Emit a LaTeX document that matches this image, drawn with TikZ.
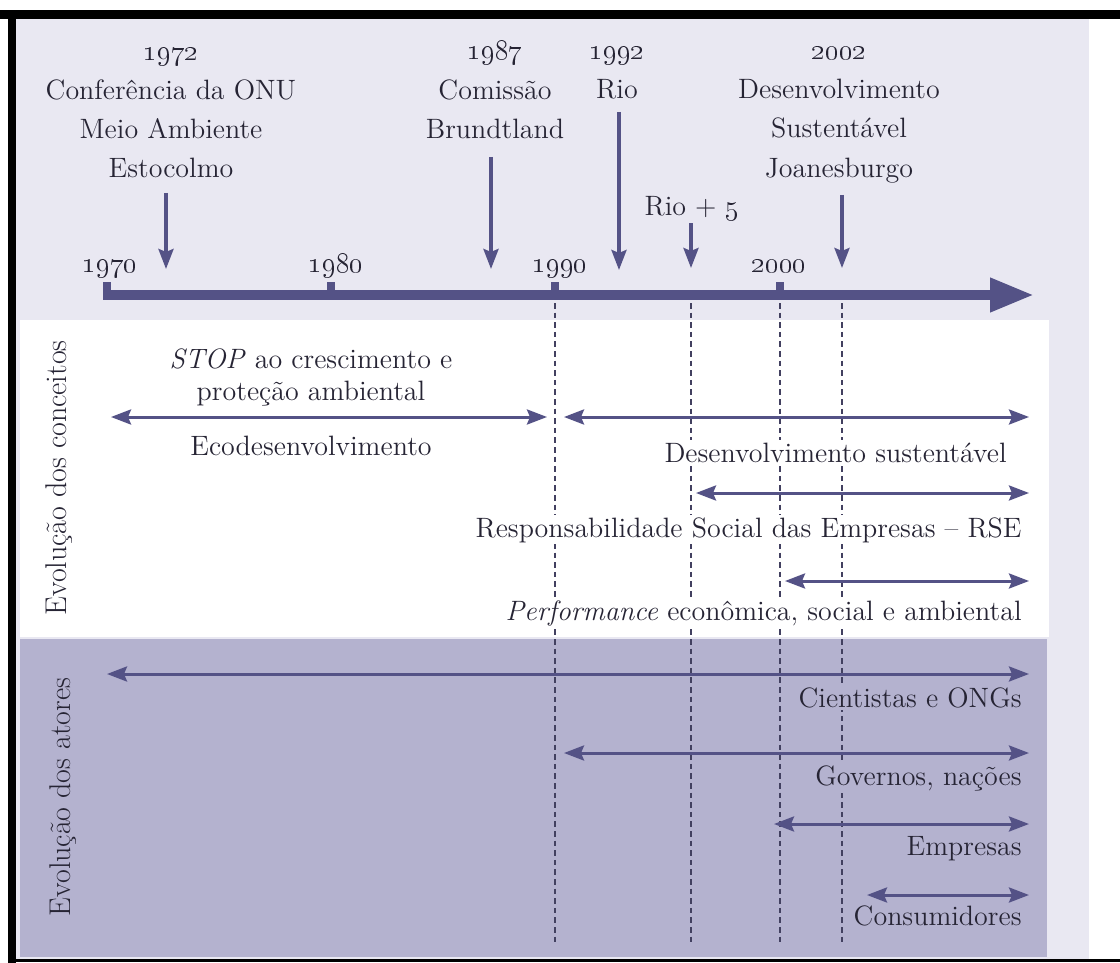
\documentclass[tikz,border=0pt]{standalone}
\usetikzlibrary{arrows.meta}
\definecolor{bglav}{RGB}{233,232,242}
\definecolor{panelc}{RGB}{180,178,207}
\definecolor{ink}{RGB}{84,82,134}
\definecolor{txtc}{RGB}{38,36,52}
\definecolor{dashc}{RGB}{66,64,96}
\newcommand{\osn}[1]{\oldstylenums{#1}}
\begin{document}
\begin{tikzpicture}[x=0.5pt,y=-0.5pt,
  txtf/.style={font=\fontsize{14}{19.6}\selectfont, text=txtc},
  evlabel/.style={txtf, align=center, inner sep=0pt},
  yearlbl/.style={txtf, anchor=base, inner sep=0pt},
  plain/.style={txtf, anchor=base, inner sep=0pt},
  cl/.style={txtf, anchor=base east, fill=white, inner xsep=1.5pt, inner ysep=1pt},
  al/.style={txtf, anchor=base east, fill=panelc, inner xsep=1.5pt, inner ysep=1pt},
  side/.style={font=\fontsize{15}{17}\selectfont, text=txtc, rotate=90, anchor=base, inner sep=0pt},
  evt/.style={draw=ink, line width=1.8pt, -{Stealth[length=10pt,width=7.5pt,inset=1.5pt]}},
  spanarr/.style={draw=ink, line width=1.5pt, {Stealth[length=10pt,width=7.5pt,inset=1.5pt]}-{Stealth[length=10pt,width=7.5pt,inset=1.5pt]}},
  vdash/.style={draw=dashc, line width=0.85pt, dash pattern=on 2.8pt off 2pt},
]
\useasboundingbox (0,0) rectangle (1120,963);
% frame and background
\fill[white] (0,0) rectangle (1120,963);
\fill[bglav] (16,19) rectangle (1089,960);
\fill[black] (0,10) rectangle (1120,19);
\fill[black] (8,10) rectangle (16,963);
\fill[black] (8,959) rectangle (1120,962);
% panels
\fill[white] (20,320) rectangle (1049,637);
\fill[panelc] (20,639) rectangle (1047,957);
% dashed guide lines
\foreach \n/\x in {d90/555, d97/691, d00/780, d02/842}{
  \coordinate (\n-t) at (\x,303);
  \coordinate (\n-b) at (\x,945);
  \draw[vdash] (\n-t) -- (\n-b);
}
% concept spans
\coordinate (eco-l) at (111,417); \coordinate (eco-r) at (547,417);
\coordinate (ds-l) at (564,417); \coordinate (ds-r) at (1029,417);
\coordinate (rse-l) at (696,493); \coordinate (rse-r) at (1029,493);
\coordinate (perf-l) at (785,581); \coordinate (perf-r) at (1029,581);
\draw[spanarr] (eco-l) -- (eco-r);
\draw[spanarr] (ds-l) -- (ds-r);
\draw[spanarr] (rse-l) -- (rse-r);
\draw[spanarr] (perf-l) -- (perf-r);
% actor spans
\coordinate (ci-l) at (107,674); \coordinate (ci-r) at (1029,674);
\coordinate (go-l) at (564,753); \coordinate (go-r) at (1029,753);
\coordinate (em-l) at (774,824); \coordinate (em-r) at (1029,824);
\coordinate (co-l) at (867,895); \coordinate (co-r) at (1029,895);
\draw[spanarr] (ci-l) -- (ci-r);
\draw[spanarr] (go-l) -- (go-r);
\draw[spanarr] (em-l) -- (em-r);
\draw[spanarr] (co-l) -- (co-r);
% concept labels
\node[plain] (stop) at (311,368) {\textit{STOP} ao crescimento e};
\node[plain] (prot) at (311,400) {proteção ambiental};
\node[plain] (eco) at (311,455) {Ecodesenvolvimento};
\node[cl] (ds) at (1010,462) {Desenvolvimento sustentável};
\node[cl] (rse) at (1025,537) {Responsabilidade Social das Empresas – RSE};
\node[cl] (perf) at (1025,620) {\textit{Performance} econômica, social e ambiental};
% actor labels
\node[al] (cient) at (1025,707) {Cientistas e ONGs};
\node[al] (gov) at (1025,785) {Governos, nações};
\node[al] (emp) at (1025,855) {Empresas};
\node[al] (cons) at (1025,925) {Consumidores};
% side labels
\node[side] (conc) at (66,478) {Evolução dos conceitos};
\node[side] (ator) at (70,797) {Evolução dos atores};
% main axis
\coordinate (ax-s) at (103,295); \coordinate (ax-e) at (1034,295);
\draw[ink, line width=5pt, -{Triangle[length=22pt,width=16pt]}] (ax-s) -- (ax-e);
\foreach \x in {107,331,555,780} \fill[ink] (\x-4,282) rectangle (\x+4,295);
\node[yearlbl] (y70) at (110,272) {\osn{1970}};
\node[yearlbl] (y80) at (336,272) {\osn{1980}};
\node[yearlbl] (y90) at (560,272) {\osn{1990}};
\node[yearlbl] (y00) at (779,272) {\osn{2000}};
% events
\node[evlabel] (e72) at (171,113) {\osn{1972}\\Conferência da ONU\\Meio Ambiente\\Estocolmo};
\node[evlabel] (e87) at (495,90) {\osn{1987}\\Comissão\\Brundtland};
\node[evlabel] (e92) at (617,73) {\osn{1992}\\Rio};
\node[evlabel] (e02) at (839,115) {\osn{2002}\\Desenvolvimento\\Sustentável\\Joanesburgo};
\node[plain] (e97) at (692,215) {Rio + \osn{5}};
\coordinate (a72s) at (166,193); \coordinate (a72e) at (166,269);
\coordinate (a87s) at (491,157); \coordinate (a87e) at (491,269);
\coordinate (a92s) at (619,112); \coordinate (a92e) at (619,270);
\coordinate (a97s) at (691,223); \coordinate (a97e) at (691,268);
\coordinate (a02s) at (842,195); \coordinate (a02e) at (842,268);
\draw[evt] (a72s) -- (a72e);
\draw[evt] (a87s) -- (a87e);
\draw[evt] (a92s) -- (a92e);
\draw[evt] (a97s) -- (a97e);
\draw[evt] (a02s) -- (a02e);
\end{tikzpicture}
\end{document}
